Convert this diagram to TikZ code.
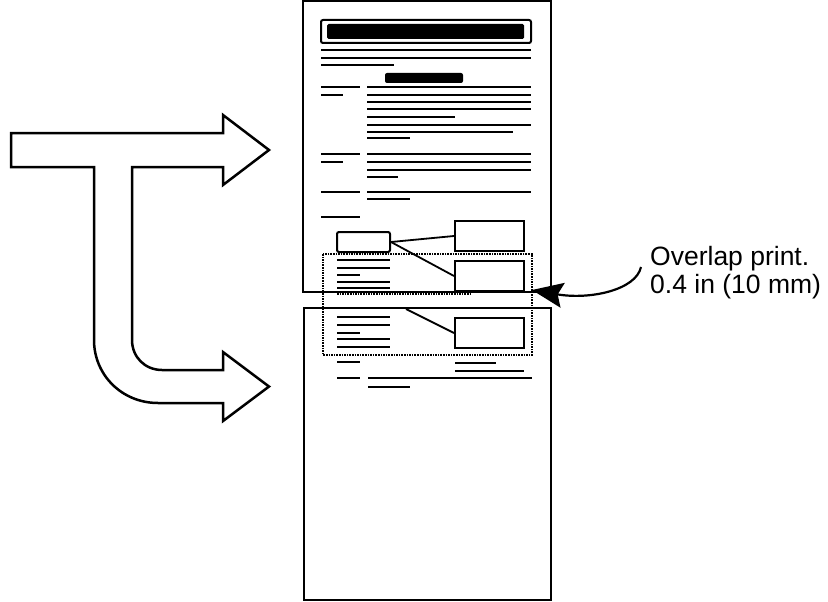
\documentclass[tikz,border=0pt]{standalone}
\usepackage{fontspec}
\setmainfont{Liberation Sans}
\usetikzlibrary{arrows.meta}
\begin{document}
\begin{tikzpicture}[x=1pt,y=-1pt,
  tarrow/.style={line width=2.5pt,line join=miter},
  sheet/.style={line width=2pt},
  txtline/.style={line width=2.2pt},
  pbox/.style={draw,line width=2pt,inner sep=0pt,minimum width=69pt,minimum height=30pt},
  sbox/.style={draw,line width=2pt,inner sep=0pt,minimum width=53pt,minimum height=20pt,rounded corners=2pt},
  link/.style={line width=1.8pt},
  captxt/.style={inner sep=0pt,anchor=base west,font=\fontsize{26.5pt}{28pt}\selectfont}]
\useasboundingbox (0,0) rectangle (828,602);
% T-shaped arrow
\draw[tarrow] (11,133) -- (223,133) -- (223,115) -- (269,150) -- (223,185) -- (223,167)
  -- (132,167) -- (132,340) .. controls (132,357) and (145,370) .. (162,370)
  -- (223,370) -- (223,352) -- (269,386.5) -- (223,421) -- (223,403)
  -- (158,403) .. controls (122,403) and (94,375) .. (94,340) -- (94,167) -- (11,167) -- cycle;
% sheets
\draw[sheet] (303,1) rectangle (551,292);
\draw[sheet] (304,308) rectangle (551,600);
% header
\draw[line width=2pt,rounded corners=2pt] (321,20) rectangle (531,43);
\fill[rounded corners=1.5pt] (327,24) rectangle (524,39);
\foreach \y in {50,58} \draw[txtline] (321,\y) -- (531,\y);
\draw[txtline] (321,65) -- (394,65);
\fill[rounded corners=2pt] (385,73) rectangle (463,83);
% body text lines
\foreach \y in {87,95,102,109,125,154,162,170,192} \draw[txtline] (367,\y) -- (531,\y);
\draw[txtline] (367,117) -- (455,117);
\draw[txtline] (367,132) -- (513,132);
\draw[txtline] (367,138) -- (410,138);
\draw[txtline] (367,177) -- (398,177);
\draw[txtline] (367,199) -- (410,199);
\foreach \y in {87,154,192,217} \draw[txtline] (321,\y) -- (360,\y);
\foreach \y in {95,162} \draw[txtline] (321,\y) -- (343,\y);
% overlap region
\draw[line width=1.6pt,densely dotted] (323,254) rectangle (532,355);
\foreach \y in {260,268,282,288,317,325,339,347} \draw[txtline] (337,\y) -- (390,\y);
\draw[line width=1.6pt,densely dotted] (337,294) -- (470,294);
\foreach \y in {275,333} \draw[txtline] (337,\y) -- (360,\y);
% boxes
\node[sbox] (sb) at (363.5,242) {};
\node[pbox] (b1) at (489.5,236) {};
\node[pbox] (b2) at (489.5,276) {};
\node[pbox] (b3) at (489.5,333) {};
\coordinate (lb) at (406,309);
\draw[link] (sb.east) -- (b1.west);
\draw[link] (sb.east) -- (b2.west);
\draw[link] (lb) -- (b3.west);
% lower text lines
\draw[txtline] (337,362) -- (360,362);
\draw[txtline] (455,363) -- (496,363);
\draw[txtline] (455,371) -- (524,371);
\draw[line width=2.5pt] (337,378) -- (360,378);
\draw[txtline] (368,378) -- (532,378);
\draw[txtline] (368,387) -- (410,387);
% callout
\node[captxt] (cap1) at (650,265) {Overlap print.};
\node[captxt] (cap2) at (650,293) {0.4 in (10 mm)};
\coordinate (cstart) at (641,267);
\coordinate (ovtip) at (532,290);
\draw[line width=2.2pt,-{Stealth[length=31pt,width=25pt,inset=5pt]}] (cstart) .. controls (636,290) and (590,300) .. (ovtip);
\end{tikzpicture}
\end{document}
